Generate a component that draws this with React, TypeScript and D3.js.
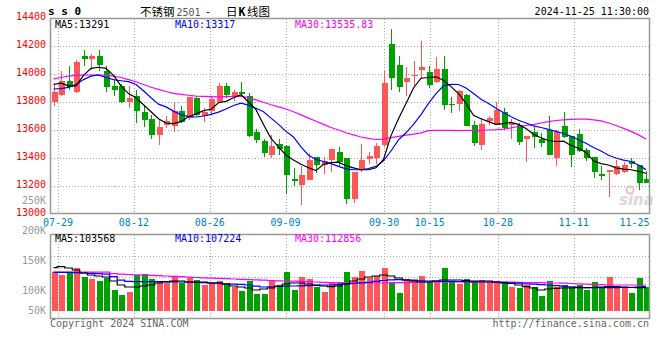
import React from 'react';
import * as d3 from 'd3';

// trading days shown in the daily K-line
const dates = [
	'07-26', '07-29', '07-30', '07-31', '08-01', '08-02', '08-05', '08-06', '08-07', '08-08',
	'08-09', '08-12', '08-13', '08-14', '08-15', '08-16', '08-19', '08-20', '08-21', '08-22',
	'08-23', '08-26', '08-27', '08-28', '08-29', '08-30', '09-02', '09-03', '09-04', '09-05',
	'09-06', '09-09', '09-10', '09-11', '09-12', '09-13', '09-18', '09-19', '09-20', '09-23',
	'09-24', '09-25', '09-26', '09-27', '09-30', '10-08', '10-09', '10-10', '10-11', '10-14',
	'10-15', '10-16', '10-17', '10-18', '10-21', '10-22', '10-23', '10-24', '10-25', '10-28',
	'10-29', '10-30', '10-31', '11-01', '11-04', '11-05', '11-06', '11-07', '11-08', '11-11',
	'11-12', '11-13', '11-14', '11-15', '11-18', '11-19', '11-20', '11-21', '11-22', '11-25',
];

const opens = [
	13797, 13847, 13952, 13869, 14126, 14107, 14126, 14019, 13912, 13912,
	13802, 13840, 13726, 13678, 13566, 13638, 13631, 13738, 13685, 13828,
	13697, 13733, 13797, 13916, 13835, 13874, 13845, 13588, 13519, 13419,
	13497, 13483, 13252, 13209, 13245, 13404, 13350, 13388, 13445, 13397,
	13109, 13316, 13395, 13400, 13495, 14217, 14067, 13945, 13983, 14031,
	14017, 13940, 14038, 13786, 13786, 13852, 13636, 13495, 13667, 13638,
	13726, 13636, 13638, 13535, 13583, 13538, 13602, 13397, 13626, 13555,
	13574, 13455, 13405, 13288, 13297, 13283, 13300, 13376, 13347, 13252,
];
const highs = [
	13935, 14020, 14055, 14097, 14174, 14140, 14170, 14059, 13960, 13928,
	13912, 13888, 13781, 13709, 13678, 13702, 13797, 13769, 13835, 13835,
	13757, 13835, 13935, 13935, 13888, 13940, 13864, 13610, 13538, 13566,
	13538, 13490, 13328, 13345, 13436, 13410, 13404, 13466, 13476, 13397,
	13302, 13502, 13440, 13510, 14019, 14324, 14126, 14050, 14095, 14238,
	14059, 14119, 14126, 13836, 13888, 13859, 13662, 13686, 13698, 13800,
	13757, 13681, 13650, 13555, 13621, 13578, 13702, 13602, 13726, 13555,
	13607, 13470, 13410, 13345, 13316, 13383, 13369, 13400, 13352, 13310,
];
const lows = [
	13769, 13840, 13888, 13864, 14055, 14031, 14019, 13869, 13840, 13790,
	13757, 13650, 13621, 13535, 13495, 13614, 13585, 13650, 13674, 13700,
	13655, 13710, 13790, 13828, 13805, 13845, 13550, 13505, 13405, 13400,
	13419, 13145, 13197, 13062, 13240, 13293, 13285, 13298, 13345, 13069,
	13081, 13300, 13360, 13360, 13480, 13888, 13869, 13845, 13912, 13964,
	13900, 13935, 13745, 13721, 13733, 13626, 13483, 13455, 13633, 13636,
	13600, 13538, 13490, 13369, 13471, 13478, 13420, 13345, 13540, 13336,
	13440, 13380, 13257, 13240, 13119, 13280, 13290, 13331, 13174, 13219,
];
const closes = [
	13869, 13952, 13909, 14088, 14107, 14126, 14066, 13905, 13883, 13797,
	13826, 13733, 13674, 13566, 13621, 13662, 13738, 13655, 13833, 13709,
	13731, 13821, 13916, 13852, 13874, 13860, 13555, 13531, 13435, 13488,
	13467, 13276, 13233, 13276, 13388, 13347, 13378, 13466, 13369, 13109,
	13302, 13386, 13412, 13483, 13936, 13974, 13905, 13974, 13995, 14050,
	13919, 14038, 13781, 13776, 13876, 13631, 13507, 13645, 13683, 13745,
	13614, 13650, 13514, 13555, 13550, 13509, 13424, 13583, 13547, 13419,
	13447, 13397, 13297, 13269, 13316, 13345, 13347, 13355, 13221, 13219,
];

const volumes = [
	131200, 126700, 130500, 138300, 123800, 120000, 117200, 121200, 101700, 93800,
	98800, 126200, 128300, 120000, 116700, 112800, 125000, 112800, 123300, 118300,
	110000, 112800, 116700, 111200, 107200, 100000, 116700, 95000, 95000, 118300,
	110000, 131700, 101700, 123300, 120000, 106700, 98300, 115000, 113300, 131700,
	123300, 133300, 122500, 125000, 138300, 115000, 96700, 118300, 118300, 125000,
	115000, 115000, 138300, 114200, 111700, 120000, 117500, 118300, 115800, 115800,
	113300, 106700, 105000, 110000, 106700, 91700, 116700, 106700, 110000, 106700,
	110000, 101700, 115000, 106700, 123300, 108300, 105000, 96700, 121700, 106700,
];

// moving averages as drawn on the price panel
const ma5 = [
	13925, 13935, 13915, 13915, 13990, 14040, 14048, 14040, 13990, 13915,
	13860, 13830, 13780, 13730, 13680, 13650, 13645, 13660, 13695, 13715,
	13738, 13748, 13795, 13805, 13830, 13852, 13800, 13745, 13640, 13540,
	13480, 13420, 13385, 13355, 13330, 13310, 13355, 13368, 13370, 13345,
	13330, 13316, 13316, 13330, 13390, 13560, 13680, 13790, 13900, 13970,
	13975, 13980, 13955, 13910, 13860, 13790, 13705, 13680, 13660, 13640,
	13645, 13655, 13640, 13610, 13570, 13545, 13525, 13518, 13520, 13490,
	13470, 13440, 13380, 13360, 13350, 13330, 13320, 13316, 13305, 13291,
];
const ma10 = [
	13893, 13895, 13905, 13925, 13960, 13985, 13993, 13975, 13960, 13952,
	13945, 13925, 13880, 13830, 13785, 13765, 13735, 13710, 13695, 13693,
	13700, 13712, 13728, 13750, 13775, 13792, 13778, 13755, 13730, 13685,
	13640, 13590, 13550, 13480, 13420, 13390, 13375, 13360, 13340, 13322,
	13316, 13316, 13325, 13340, 13380, 13450, 13530, 13580, 13640, 13710,
	13790, 13860, 13915, 13926, 13925, 13900, 13860, 13820, 13790, 13755,
	13725, 13695, 13670, 13650, 13630, 13618, 13605, 13590, 13575, 13555,
	13530, 13505, 13475, 13450, 13420, 13400, 13385, 13375, 13350, 13317,
];
const ma30 = [
	13965, 13975, 13985, 13990, 13992, 13993, 13993, 13990, 13985, 13975,
	13960, 13945, 13925, 13905, 13890, 13875, 13862, 13855, 13848, 13842,
	13840, 13838, 13836, 13838, 13840, 13842, 13830, 13815, 13798, 13780,
	13765, 13750, 13730, 13708, 13685, 13662, 13640, 13618, 13600, 13580,
	13565, 13550, 13540, 13532, 13535, 13545, 13555, 13563, 13570, 13580,
	13595, 13598, 13598, 13597, 13596, 13597, 13597, 13598, 13600, 13602,
	13606, 13615, 13625, 13632, 13638, 13650, 13660, 13668, 13673, 13676,
	13678, 13678, 13672, 13665, 13650, 13632, 13612, 13590, 13565, 13536,
];

// moving averages as drawn on the volume panel
const volMa5 = [
	138800, 140500, 138300, 135000, 130000, 126700, 125000, 123300, 116700, 110000,
	106700, 106700, 108300, 110000, 113300, 115000, 116700, 116700, 115000, 115000,
	115000, 113300, 113300, 111700, 108300, 106700, 105000, 101700, 103300, 105000,
	108300, 111700, 113300, 113300, 111700, 110000, 108300, 107200, 108300, 111700,
	116700, 120000, 123300, 125000, 126700, 125000, 121700, 118300, 116700, 115000,
	115000, 116700, 118300, 118300, 118300, 117500, 116700, 116700, 116700, 115000,
	113300, 112500, 110000, 107200, 105000, 101700, 103300, 104500, 105000, 105000,
	105500, 105500, 105800, 106700, 107200, 107200, 106700, 105800, 105500, 105500,
];
const volMa10 = [
	131200, 131200, 131000, 130500, 130000, 129500, 129000, 128000, 124000, 118000,
	116000, 115500, 115500, 115500, 115500, 115500, 115200, 115000, 115000, 114500,
	114000, 113500, 113000, 112000, 111500, 111000, 110000, 108000, 106700, 107000,
	107500, 108000, 108300, 108500, 109000, 109500, 110000, 110000, 110500, 111500,
	112500, 113500, 114500, 116000, 117500, 118500, 119000, 118500, 118000, 117000,
	116700, 116500, 116200, 116000, 115800, 115500, 115200, 115000, 115000, 114800,
	114500, 113500, 113000, 112000, 111500, 110500, 110000, 109000, 108000, 107000,
	106500, 105500, 105500, 105500, 105500, 105500, 105800, 106200, 106700, 107200,
];
const volMa30 = [
	131500, 131500, 131500, 131500, 131500, 131500, 131500, 131500, 129000, 128000,
	127500, 127000, 126500, 126000, 125500, 125000, 124500, 124000, 123300, 122500,
	122000, 121500, 121000, 120500, 120000, 119500, 119000, 118500, 118000, 117500,
	117000, 116700, 116500, 116000, 115500, 115000, 114500, 114000, 113800, 113500,
	113300, 113300, 113300, 113300, 113300, 113500, 113800, 114000, 114500, 115000,
	115000, 115000, 115000, 115000, 115000, 115000, 115000, 115000, 115000, 115000,
	115000, 114700, 114500, 114200, 114000, 113800, 113500, 113300, 113000, 112500,
	112000, 111500, 111000, 110500, 110000, 110000, 110000, 110000, 110000, 110000,
];

const priceTicks = [13000, 13200, 13400, 13600, 13800, 14000, 14200, 14400];
const volTicks = [250000, 200000, 150000, 100000, 50000];
const dateLabels = ['07-29', '08-12', '08-26', '09-09', '09-30', '10-15', '10-28', '11-11', '11-25'];

const RED = '#ff5757';
const GREEN = '#00a000';
const MONO = '"DejaVu Sans Mono", "Liberation Mono", monospace';
const CJK = '"Noto Sans CJK SC", sans-serif';

const left = 50.5;
const right = 649.5;
const priceTop = 18.5;
const priceBottom = 213.5;
const volTop = 234.5;
const volBottom = 318.5;
const volBase = volBottom - 7.8;

const fmtK = (v: number) => `${v / 1000}K`;

export default function App() {
	// candle centres and the (slightly differently spaced) date gridlines
	const x = d3.scalePoint<string>().domain(dates).range([53.5, 646]);
	const gridX = d3.scaleLinear().domain([0, dates.length - 1]).range([left, right]);
	const y = d3.scaleLinear().domain([13000, 14400]).range([214, 18]);
	const yVol = d3.scaleLinear().domain([100000, 150000]).range([291, 261]);

	const cx = (i: number) => Math.round(x(dates[i]) as number);

	const priceLine = d3.line<number>()
		.x((_, i) => x(dates[i]) as number)
		.y(d => y(d));
	const volLine = d3.line<number>()
		.x((_, i) => x(dates[i]) as number)
		.y(d => yVol(d))
		.curve(d3.curveStep);

	const volGrid = d3.range(1, 4).map(k => volTop + (k * (volBottom - volTop)) / 4);
	const labelIdx = dateLabels.map(d => dates.indexOf(d));
	const last = dates.length - 1;

	return (
		<svg
			width={660}
			height={360}
			style={{ position: 'absolute', left: 0, top: 0, background: '#fff' }}
			fontFamily={MONO}
		>
			<defs>
				<clipPath id="price-clip">
					<rect x={left} y={priceTop} width={right - left} height={priceBottom - priceTop} />
				</clipPath>
				<clipPath id="vol-clip">
					<rect x={left} y={volTop} width={right - left} height={volBottom - volTop} />
				</clipPath>
			</defs>

			{/* header */}
			<text x={48} y={15} fontSize={11} fontWeight="bold" fill="#000">s s 0</text>
			<text y={16} fontSize={11.5} fontFamily={CJK} fill="#000">
				<tspan x={140}>不锈钢</tspan>
				<tspan x={176.5} fontFamily={MONO} fontSize={10} fill="#555">2501</tspan>
				<tspan x={206}>-</tspan>
				<tspan x={226}>日</tspan>
				<tspan x={238.5} fontWeight="bold" fontFamily={MONO}>K</tspan>
				<tspan x={247}>线图</tspan>
			</text>
			<text x={649} y={15} fontSize={10} textAnchor="end" fill="#000">2024-11-25 11:30:00</text>

			{/* gridlines */}
			<g stroke="#aaa" strokeDasharray="1,2" shapeRendering="crispEdges">
				{priceTicks.slice(1, -1).map(t => (
					<line key={t} x1={left} x2={right} y1={Math.round(y(t)) + 0.5} y2={Math.round(y(t)) + 0.5} />
				))}
				{volGrid.map(g => (
					<line key={g} x1={left} x2={right} y1={Math.round(g) + 0.5} y2={Math.round(g) + 0.5} />
				))}
				{labelIdx.filter(i => i < last).map(i => (
					<g key={i}>
						<line x1={Math.round(gridX(i)) + 0.5} x2={Math.round(gridX(i)) + 0.5} y1={priceTop} y2={priceBottom} />
						<line x1={Math.round(gridX(i)) + 0.5} x2={Math.round(gridX(i)) + 0.5} y1={volTop} y2={volBottom} />
					</g>
				))}
			</g>

			{/* price axis labels */}
			<g fontSize={10} textAnchor="end" fill="#ff0000">
				{priceTicks.map(t => (
					<text key={t} x={46} y={y(t) + 2}>{t}</text>
				))}
			</g>
			{/* volume axis labels */}
			<g fontSize={10} textAnchor="end" fill="#999">
				{volTicks.map(v => (
					<text key={v} x={46} y={Math.min(yVol(v), volBase + 1) + 2.5}>{fmtK(v)}</text>
				))}
			</g>

			{/* date labels */}
			<g fontSize={10} fill="#0080d0">
				{labelIdx.map((i, k) => (
					<text
						key={dateLabels[k]}
						x={i === last ? right : gridX(i)}
						y={225.5}
						textAnchor={i === last ? 'end' : 'middle'}
					>
						{dateLabels[k]}
					</text>
				))}
			</g>

			{/* sina watermark */}
			<g opacity={0.9}>
				<circle cx={630} cy={190} r={3.5} fill="none" stroke="#f2b9b9" strokeWidth={2} />
				<text x={619} y={205} fontSize={15} fontWeight="bold" fontStyle="italic" fontFamily='"DejaVu Sans", sans-serif' fill="#d6d6d6">sina</text>
			</g>

			{/* candles */}
			<g clipPath="url(#price-clip)" shapeRendering="crispEdges">
				{dates.map((d, i) => {
					const up = closes[i] >= opens[i];
					const color = up ? RED : GREEN;
					const top = Math.round(y(Math.max(opens[i], closes[i])));
					const bot = Math.round(y(Math.min(opens[i], closes[i])));
					const c = cx(i);
					return (
						<g key={d}>
							<line x1={c + 0.5} x2={c + 0.5} y1={y(highs[i])} y2={y(lows[i])} stroke={color} strokeWidth={1} />
							<rect x={c - 2} y={top} width={6} height={Math.max(1, bot - top)} fill={color} />
						</g>
					);
				})}
			</g>

			{/* price moving averages */}
			<g clipPath="url(#price-clip)" fill="none" strokeWidth={1.2}>
				<path d={priceLine(ma30) || ''} stroke="#ff00ff" />
				<path d={priceLine(ma10) || ''} stroke="#0000ff" />
				<path d={priceLine(ma5) || ''} stroke="#000" />
			</g>

			{/* volume bars */}
			<g clipPath="url(#vol-clip)" shapeRendering="crispEdges">
				{dates.map((d, i) => {
					const up = closes[i] >= opens[i];
					const top = Math.round(yVol(volumes[i]));
					return (
						<rect key={d} x={cx(i) - 2} y={top} width={6} height={Math.round(volBase) - top} fill={up ? RED : GREEN} />
					);
				})}
			</g>

			{/* volume moving averages */}
			<g clipPath="url(#vol-clip)" fill="none" strokeWidth={1.2}>
				<path d={volLine(volMa30) || ''} stroke="#ff00ff" />
				<path d={volLine(volMa10) || ''} stroke="#0000ff" />
				<path d={volLine(volMa5) || ''} stroke="#000" />
			</g>

			{/* panel borders */}
			<g fill="none" stroke="#999" strokeWidth={1.5}>
				<rect x={left} y={priceTop} width={right - left} height={priceBottom - priceTop} />
				<rect x={left} y={volTop} width={right - left} height={volBottom - volTop} />
			</g>

			{/* legends */}
			<g fontSize={10}>
				<text x={55} y={27.5} fill="#000">MA5:{ma5[last]}</text>
				<text x={175} y={27.5} fill="#0000ff">MA10:{ma10[last]}</text>
				<text x={295} y={27.5} fill="#ff00ff">MA30:13535.83</text>
				<text x={55} y={242} fill="#000">MA5:103568</text>
				<text x={175} y={242} fill="#0000ff">MA10:107224</text>
				<text x={295} y={242} fill="#ff00ff">MA30:112856</text>
			</g>

			{/* footer */}
			<text x={50} y={327} fontSize={10} fill="#666">Copyright 2024 SINA.COM</text>
			<text x={649} y={327} fontSize={10} fill="#666" textAnchor="end">http://finance.sina.com.cn</text>
		</svg>
	);
}
